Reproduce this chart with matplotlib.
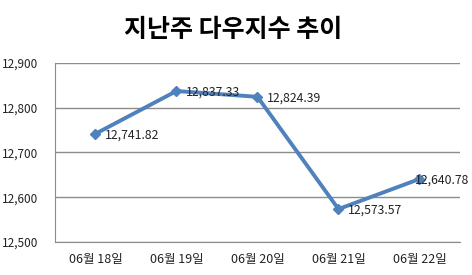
import numpy as np
import matplotlib.pyplot as plt

plt.rcParams['font.family'] = ['Noto Sans CJK KR', 'DejaVu Sans']

# data
dates = ['06월 18일', '06월 19일', '06월 20일', '06월 21일', '06월 22일']
dow = [12741.82, 12837.33, 12824.39, 12573.57, 12640.78]
yticks = [12500, 12600, 12700, 12800, 12900]

fig = plt.figure(figsize=(4.72, 2.75), dpi=100)
ax = fig.add_axes([0.1165, 0.12, 0.858, 0.651])

x = np.arange(len(dates))
ax.plot(x, dow, color='#4F81BD', lw=2.8, marker='D', ms=5.5, zorder=3)

# last label sits over its marker so it stays inside the figure
offsets = [7, 7, 7, 7, -3]
for xi, v, dx in zip(x, dow, offsets):
    ax.annotate(f'{v:,.2f}', (xi, v), xytext=(dx, -1), textcoords='offset points',
                ha='left', va='center', fontsize=8.8, color='#222222', zorder=4)

ax.set_xlim(-0.5, 4.5)
ax.set_ylim(12500, 12900)
ax.set_yticks(yticks)
ax.set_yticklabels([f'{t:,}' for t in yticks], fontsize=8.5)
ax.set_xticks(x)
ax.set_xticklabels(dates, fontsize=9)
ax.tick_params(axis='both', length=0, colors='#222222')
ax.tick_params(axis='y', pad=12)
ax.tick_params(axis='x', pad=8)

ax.grid(axis='y', color='#8c8c8c', lw=1)
ax.set_axisbelow(True)
for s in ['top', 'right']:
    ax.spines[s].set_visible(False)
ax.spines['left'].set_color('#8c8c8c')
ax.spines['bottom'].set_color('#8c8c8c')

fig.text(0.493, 0.89, '지난주 다우지수 추이', ha='center', va='center',
         fontsize=18, fontweight='bold')

fig.savefig('out.png', dpi=100)
